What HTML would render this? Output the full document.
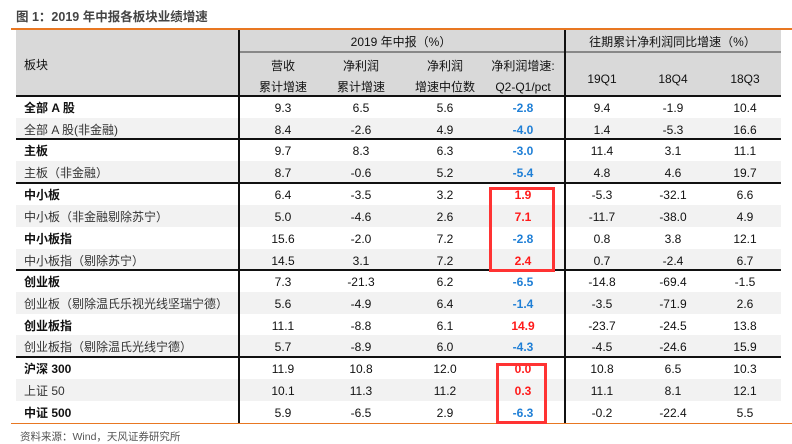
<!DOCTYPE html>
<html><head><meta charset="utf-8"><style>
body{margin:0;width:792px;height:444px;background:#fff;position:relative;overflow:hidden;font-family:"Liberation Sans","Noto Sans CJK SC",sans-serif;color:#111}
.a{position:absolute}
.t{position:absolute;font-size:12px;text-align:center;white-space:nowrap;line-height:14px}
</style></head><body>
<div class="a" style="left:16px;top:6px;font-size:12.5px;font-weight:bold;color:#444">图 1：2019 年中报各板块业绩增速</div>
<div class="a" style="left:11px;top:28px;width:781px;height:2px;background:#e87722"></div>
<div class="a" style="left:16px;top:30px;width:765px;height:65px;background:#d9d9d9"></div>
<div class="a" style="left:238px;top:51px;width:326px;height:2px;background:#888"></div>
<div class="a" style="left:564px;top:51px;width:217px;height:2px;background:#888"></div>
<div class="t" style="left:24px;top:58px;text-align:left">板块</div>
<div class="t" style="left:238px;top:35px;width:326px">2019 年中报（%）</div>
<div class="t" style="left:564px;top:35px;width:217px">往期累计净利润同比增速（%）</div>
<div id="tbl"></div>
<div class="a" style="left:11px;top:423px;width:781px;height:1px;background:#e87722"></div>
<div class="a" style="left:20px;top:429px;font-size:10.5px;color:#555">资料来源：Wind，天风证券研究所</div>
<div class="a" style="left:489px;top:187px;width:60px;height:79px;border:3px solid #f33"></div>
<div class="a" style="left:496px;top:363px;width:45px;height:55px;border:3px solid #f33"></div>
<script>
const labels=["全部 A 股","全部 A 股(非金融)","主板","主板（非金融）","中小板","中小板（非金融剔除苏宁）","中小板指","中小板指（剔除苏宁）","创业板","创业板（剔除温氏乐视光线坚瑞宁德）","创业板指","创业板指（剔除温氏光线宁德）","沪深 300","上证 50","中证 500"];
const revenue=["9.3","8.4","9.7","8.7","6.4","5.0","15.6","14.5","7.3","5.6","11.1","5.7","11.9","10.1","5.9"];
const profit=["6.5","-2.6","8.3","-0.6","-3.5","-4.6","-2.0","3.1","-21.3","-4.9","-8.8","-8.9","10.8","11.3","-6.5"];
const median=["5.6","4.9","6.3","5.2","3.2","2.6","7.2","7.2","6.2","6.4","6.1","6.0","12.0","11.2","2.9"];
const diff=["-2.8","-4.0","-3.0","-5.4","1.9","7.1","-2.8","2.4","-6.5","-1.4","14.9","-4.3","0.0","0.3","-6.3"];
const q19q1=["9.4","1.4","11.4","4.8","-5.3","-11.7","0.8","0.7","-14.8","-3.5","-23.7","-4.5","10.8","11.1","-0.2"];
const q18q4=["-1.9","-5.3","3.1","4.6","-32.1","-38.0","3.8","-2.4","-69.4","-71.9","-24.5","-24.6","6.5","8.1","-22.4"];
const q18q3=["10.4","16.6","11.1","19.7","6.6","4.9","12.1","6.7","-1.5","2.6","13.8","15.9","10.3","12.1","5.5"];
const headers=[["营收","累计增速"],["净利润","累计增速"],["净利润","增速中位数"],["净利润增速:","Q2-Q1/pct"],["19Q1"],["18Q4"],["18Q3"]];
const groupStarts=[0,2,4,8,12];
const colX=[283,361,445,523,602,673,745];
const rowTops=[96,118,139,161,183,205,227,249,270,292,314,335,357,379,401,423];
const tbl=document.getElementById('tbl');
function mk(cls,style,txt){const d=document.createElement('div');d.className=cls;d.style.cssText=style;if(txt!==undefined)d.textContent=txt;tbl.appendChild(d);return d;}
headers.forEach((h,i)=>{
  const el=mk('t',`left:${colX[i]-45}px;width:90px;top:${h.length==2?56:69}px;line-height:21px`);
  el.innerHTML=h.join('<br>');
  
  
});
const cols=[revenue,profit,median,diff,q19q1,q18q4,q18q3];
labels.forEach((lab,r)=>{
  const y=rowTops[r],h=rowTops[r+1]-y;
  if(r%2==1){const bg=mk('a',`left:16px;top:${y}px;width:765px;height:${h}px;background:#f2f2f2`);
    
    }
  if(groupStarts.includes(r)){const ln=mk('a',`left:16px;top:${y-1}px;width:765px;height:1.5px;background:#111`);
    
    }
  const l=mk('t',`left:24px;top:${y+5}px;text-align:left;font-weight:${r%2==0?'bold':'normal'};color:${r%2==0?'#111':'#333'}`,lab);
  
  
  cols.forEach((c,ci)=>{
    let col='#111';
    if(ci==3){col=parseFloat(c[r])<0?'#1f7fd6':'#ff1a1a';}
    const v=mk('t',`left:${colX[ci]-40}px;width:80px;top:${y+5}px;color:${col};${ci==3?'font-weight:bold;':''}`,c[r]);
    
    
  });
});
const v1=mk('a','left:238px;top:30px;width:1.5px;height:393px;background:#111');


const v2=mk('a','left:564px;top:30px;width:1.5px;height:393px;background:#111');


</script>
</body></html>
